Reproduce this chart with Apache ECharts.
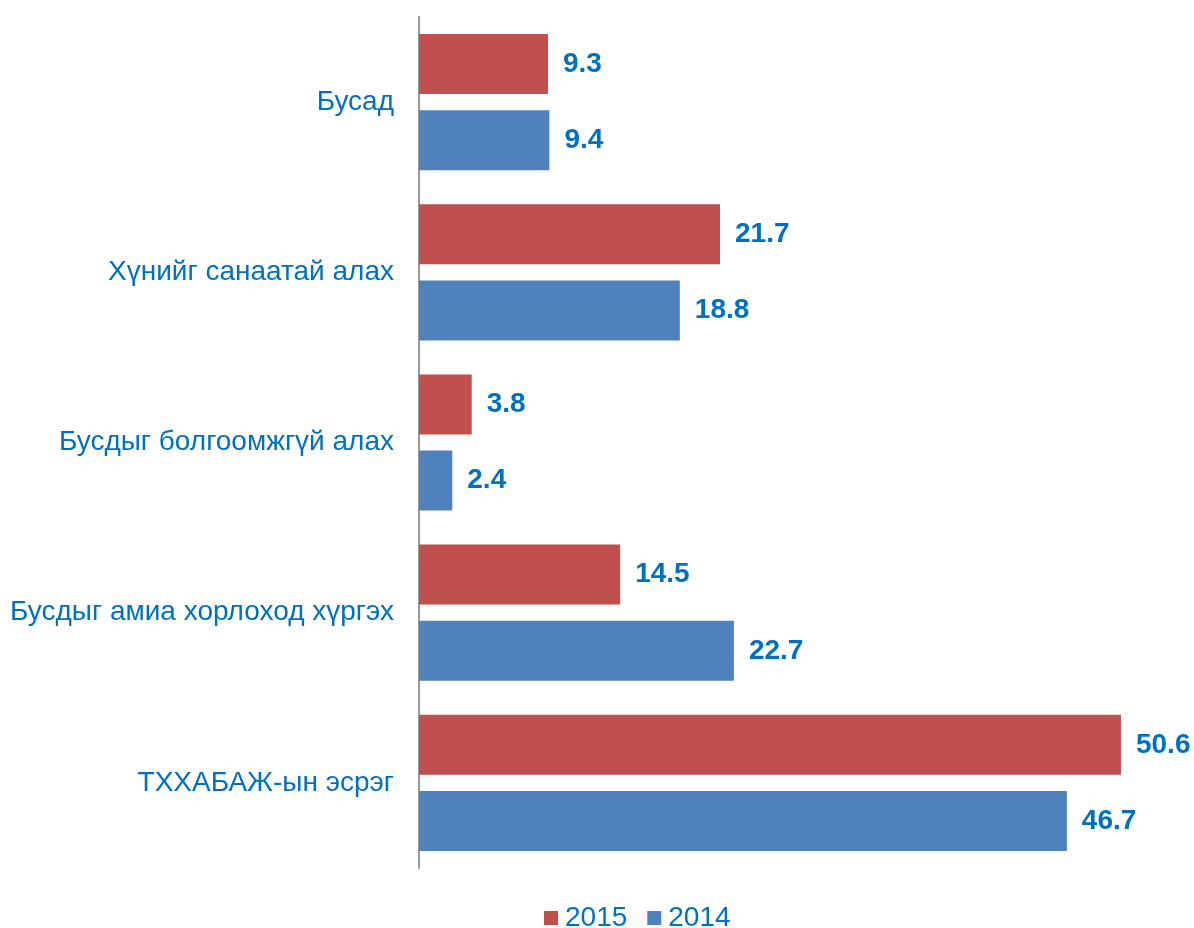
<!DOCTYPE html>
<html>
<head>
<meta charset="utf-8">
<script src="https://cdn.jsdelivr.net/npm/echarts@6/dist/echarts.min.js"></script>
<style>
  html, body { margin: 0; padding: 0; background: #fff; }
  #chart { width: 1194px; height: 928px; }
</style>
</head>
<body>
<div id="chart"></div>
<script>
// Categories, top to bottom
const categories = [
  'Бусад',
  'Хүнийг санаатай алах',
  'Бусдыг болгоомжгүй алах',
  'Бусдыг амиа хорлоход хүргэх',
  'ТХХАБАЖ-ын эсрэг'
];
const years = ['2015', '2014'];
const values2015 = [9.3, 21.7, 3.8, 14.5, 50.6];
const values2014 = [9.4, 18.8, 2.4, 22.7, 46.7];

const textBlue = '#0070C0';
const font = '"Liberation Sans", Arial, sans-serif';

const chart = echarts.init(document.getElementById('chart'), null, { renderer: 'canvas' });

const labelStyle = {
  show: true,
  position: 'right',
  distance: 15,
  color: textBlue,
  fontFamily: font,
  fontWeight: 'bold',
  fontSize: 28,
  formatter: p => p.value.toFixed(1)
};

chart.setOption({
  animation: false,
  backgroundColor: '#ffffff',
  grid: { left: 419, right: 12, top: 17, bottom: 60, containLabel: false },
  legend: {
    top: 904,
    left: 544,
    itemWidth: 14,
    itemHeight: 14,
    itemGap: 20,
    padding: 0,
    icon: 'rect',
    textStyle: { color: textBlue, fontFamily: font, fontSize: 28, padding: [0, 0, 0, 2] },
    data: years
  },
  xAxis: {
    type: 'value',
    min: 0,
    max: 55,
    show: false
  },
  yAxis: {
    type: 'category',
    inverse: true,
    data: categories,
    axisLine: { show: true, lineStyle: { color: '#999999', width: 2 } },
    axisTick: { show: false },
    axisLabel: {
      color: textBlue,
      fontFamily: font,
      fontSize: 28,
      margin: 25
    }
  },
  series: [
    {
      name: years[0],
      type: 'bar',
      data: values2015,
      barWidth: 60,
      barGap: '27%',
      itemStyle: { color: '#C0504D' },
      label: labelStyle
    },
    {
      name: years[1],
      type: 'bar',
      data: values2014,
      barWidth: 60,
      itemStyle: { color: '#4F81BD' },
      label: labelStyle
    }
  ]
});
</script>
</body>
</html>
